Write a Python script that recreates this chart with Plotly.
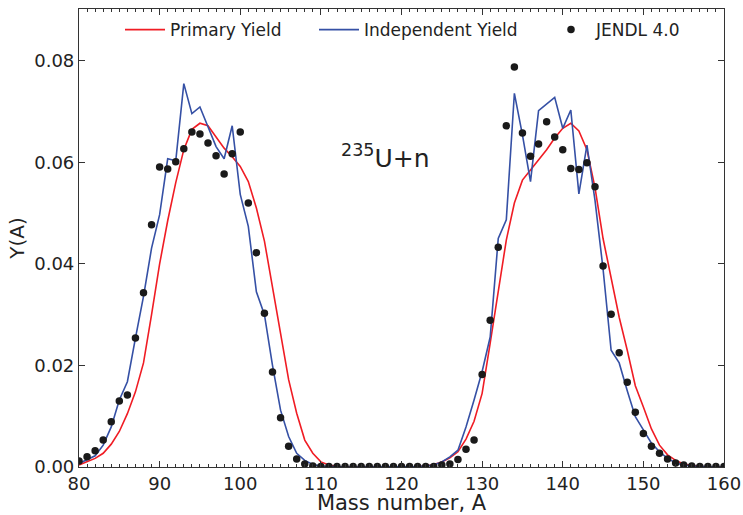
import plotly.graph_objects as go

mass = list(range(80, 161))

primary_yield = [
    0.0004, 0.0010, 0.0017, 0.0027, 0.0045, 0.0070, 0.0105, 0.0148, 0.0205, 0.0300,  # 80-89
    0.0400, 0.0485, 0.0560, 0.0625, 0.0665, 0.0677, 0.0672, 0.0650, 0.0628, 0.0611,  # 90-99
    0.0592, 0.0562, 0.0510, 0.0445, 0.0355, 0.0265, 0.0172, 0.0106, 0.0053, 0.0027,  # 100-109
    0.0010, 0.0004, 0.0001, 0.0000, 0.0000, 0.0000, 0.0000, 0.0000, 0.0000, 0.0000,  # 110-119
    0.0000, 0.0000, 0.0001, 0.0002, 0.0005, 0.0010, 0.0018, 0.0030, 0.0055, 0.0090,  # 120-129
    0.0145, 0.0244, 0.0342, 0.0447, 0.0520, 0.0565, 0.0585, 0.0605, 0.0625, 0.0648,  # 130-139
    0.0667, 0.0677, 0.0662, 0.0625, 0.0550, 0.0450, 0.0370, 0.0295, 0.0230, 0.0160,  # 140-149
    0.0118, 0.0075, 0.0043, 0.0024, 0.0013, 0.0006, 0.0003, 0.0001, 0.0000, 0.0000,  # 150-159
    0.0000,                                                                          # 160
]

independent_yield = [
    0.0007, 0.0014, 0.0022, 0.0043, 0.0079, 0.0132, 0.0168, 0.0254, 0.0336, 0.0431,  # 80-89
    0.0497, 0.0607, 0.0603, 0.0755, 0.0696, 0.0709, 0.0671, 0.0631, 0.0607, 0.0672,  # 90-99
    0.0537, 0.0474, 0.0345, 0.0300, 0.0200, 0.0112, 0.0060, 0.0027, 0.0013, 0.0005,  # 100-109
    0.0002, 0.0001, 0.0000, 0.0000, 0.0000, 0.0000, 0.0000, 0.0000, 0.0000, 0.0000,  # 110-119
    0.0000, 0.0000, 0.0001, 0.0002, 0.0004, 0.0010, 0.0020, 0.0033, 0.0079, 0.0132,  # 120-129
    0.0188, 0.0256, 0.0450, 0.0487, 0.0736, 0.0654, 0.0562, 0.0702, 0.0715, 0.0728,  # 130-139
    0.0667, 0.0703, 0.0538, 0.0634, 0.0525, 0.0390, 0.0230, 0.0205, 0.0150, 0.0099,  # 140-149
    0.0073, 0.0047, 0.0030, 0.0017, 0.0008, 0.0004, 0.0002, 0.0001, 0.0000, 0.0000,  # 150-159
    0.0000,                                                                          # 160
]

jendl = [
    0.0012, 0.0020, 0.0032, 0.0053, 0.0089, 0.0130, 0.0142, 0.0254, 0.0343, 0.0477,  # 80-89
    0.0591, 0.0587, 0.0601, 0.0627, 0.0660, 0.0656, 0.0638, 0.0613, 0.0577, 0.0617,  # 90-99
    0.0660, 0.0520, 0.0422, 0.0303, 0.0187, 0.0097, 0.0041, 0.0016, 0.0006, 0.0002,  # 100-109
    0.0001, 0.0001, 0.0001, 0.0001, 0.0001, 0.0001, 0.0001, 0.0001, 0.0001, 0.0001,  # 110-119
    0.0001, 0.0001, 0.0001, 0.0001, 0.0001, 0.0004, 0.0006, 0.0015, 0.0035, 0.0053,  # 120-129
    0.0182, 0.0289, 0.0433, 0.0672, 0.0788, 0.0658, 0.0612, 0.0636, 0.0680, 0.0650,  # 130-139
    0.0625, 0.0588, 0.0586, 0.0599, 0.0552, 0.0396, 0.0301, 0.0225, 0.0167, 0.0108,  # 140-149
    0.0066, 0.0041, 0.0027, 0.0016, 0.0008, 0.0004, 0.0002, 0.0001, 0.0001, 0.0001,  # 150-159
    0.0001,                                                                          # 160
]

x_ticks = [80, 90, 100, 110, 120, 130, 140, 150, 160]
y_ticks = [0.00, 0.02, 0.04, 0.06, 0.08]

FONT = "DejaVu Sans"
TXT = "#222222"

fig = go.Figure()
fig.add_trace(go.Scatter(x=mass, y=primary_yield, mode="lines", name="Primary Yield",
                         line=dict(color="#f01c24", width=1.6), legend="legend"))
fig.add_trace(go.Scatter(x=mass, y=independent_yield, mode="lines", name="Independent Yield",
                         line=dict(color="#3550a5", width=1.6), legend="legend2"))
fig.add_trace(go.Scatter(x=mass, y=jendl, mode="markers", name="JENDL 4.0",
                         marker=dict(color="#1a1a1a", size=7.5), legend="legend3"))

fig.add_annotation(x=118.0, y=0.0612, xref="x", yref="y",
                   text="<sup>235</sup>U+n", showarrow=False,
                   font=dict(family=FONT, size=25, color=TXT))

PL, PW = 79, 645


def leg(px):
    return dict(orientation="h", x=(px - PL) / PW, xanchor="left", y=0.954, yanchor="middle",
                bgcolor="rgba(0,0,0,0)", borderwidth=0,
                font=dict(family=FONT, size=17, color=TXT), itemwidth=40)


fig.update_layout(
    width=743, height=515,
    margin=dict(l=79, r=19, t=9, b=48),
    paper_bgcolor="white", plot_bgcolor="white",
    font=dict(family=FONT, size=17, color=TXT),
    showlegend=True,
    legend=leg(120),
    legend2=leg(314),
    legend3=leg(546),
    xaxis=dict(range=[80, 160], tickvals=x_ticks, ticks="inside", ticklen=6,
               tickcolor="#333", showline=True, linecolor="#333", linewidth=1.2,
               mirror="ticks", showgrid=False, zeroline=False, automargin=False,
               minor=dict(dtick=1, ticks="inside", ticklen=3, tickcolor="#333"),
               title=dict(text="Mass number, A", font=dict(size=21), standoff=4),
               tickfont=dict(size=18)),
    yaxis=dict(range=[0, 0.0902], tickvals=y_ticks, tickformat=".2f", ticks="inside",
               ticklen=6, tickcolor="#333", showline=True, linecolor="#333", linewidth=1.2,
               mirror="ticks", showgrid=False, zeroline=False, automargin=False,
               title=dict(text="Y(A)", font=dict(size=20), standoff=4),
               tickfont=dict(size=18)),
)

fig.write_html("out.html")
